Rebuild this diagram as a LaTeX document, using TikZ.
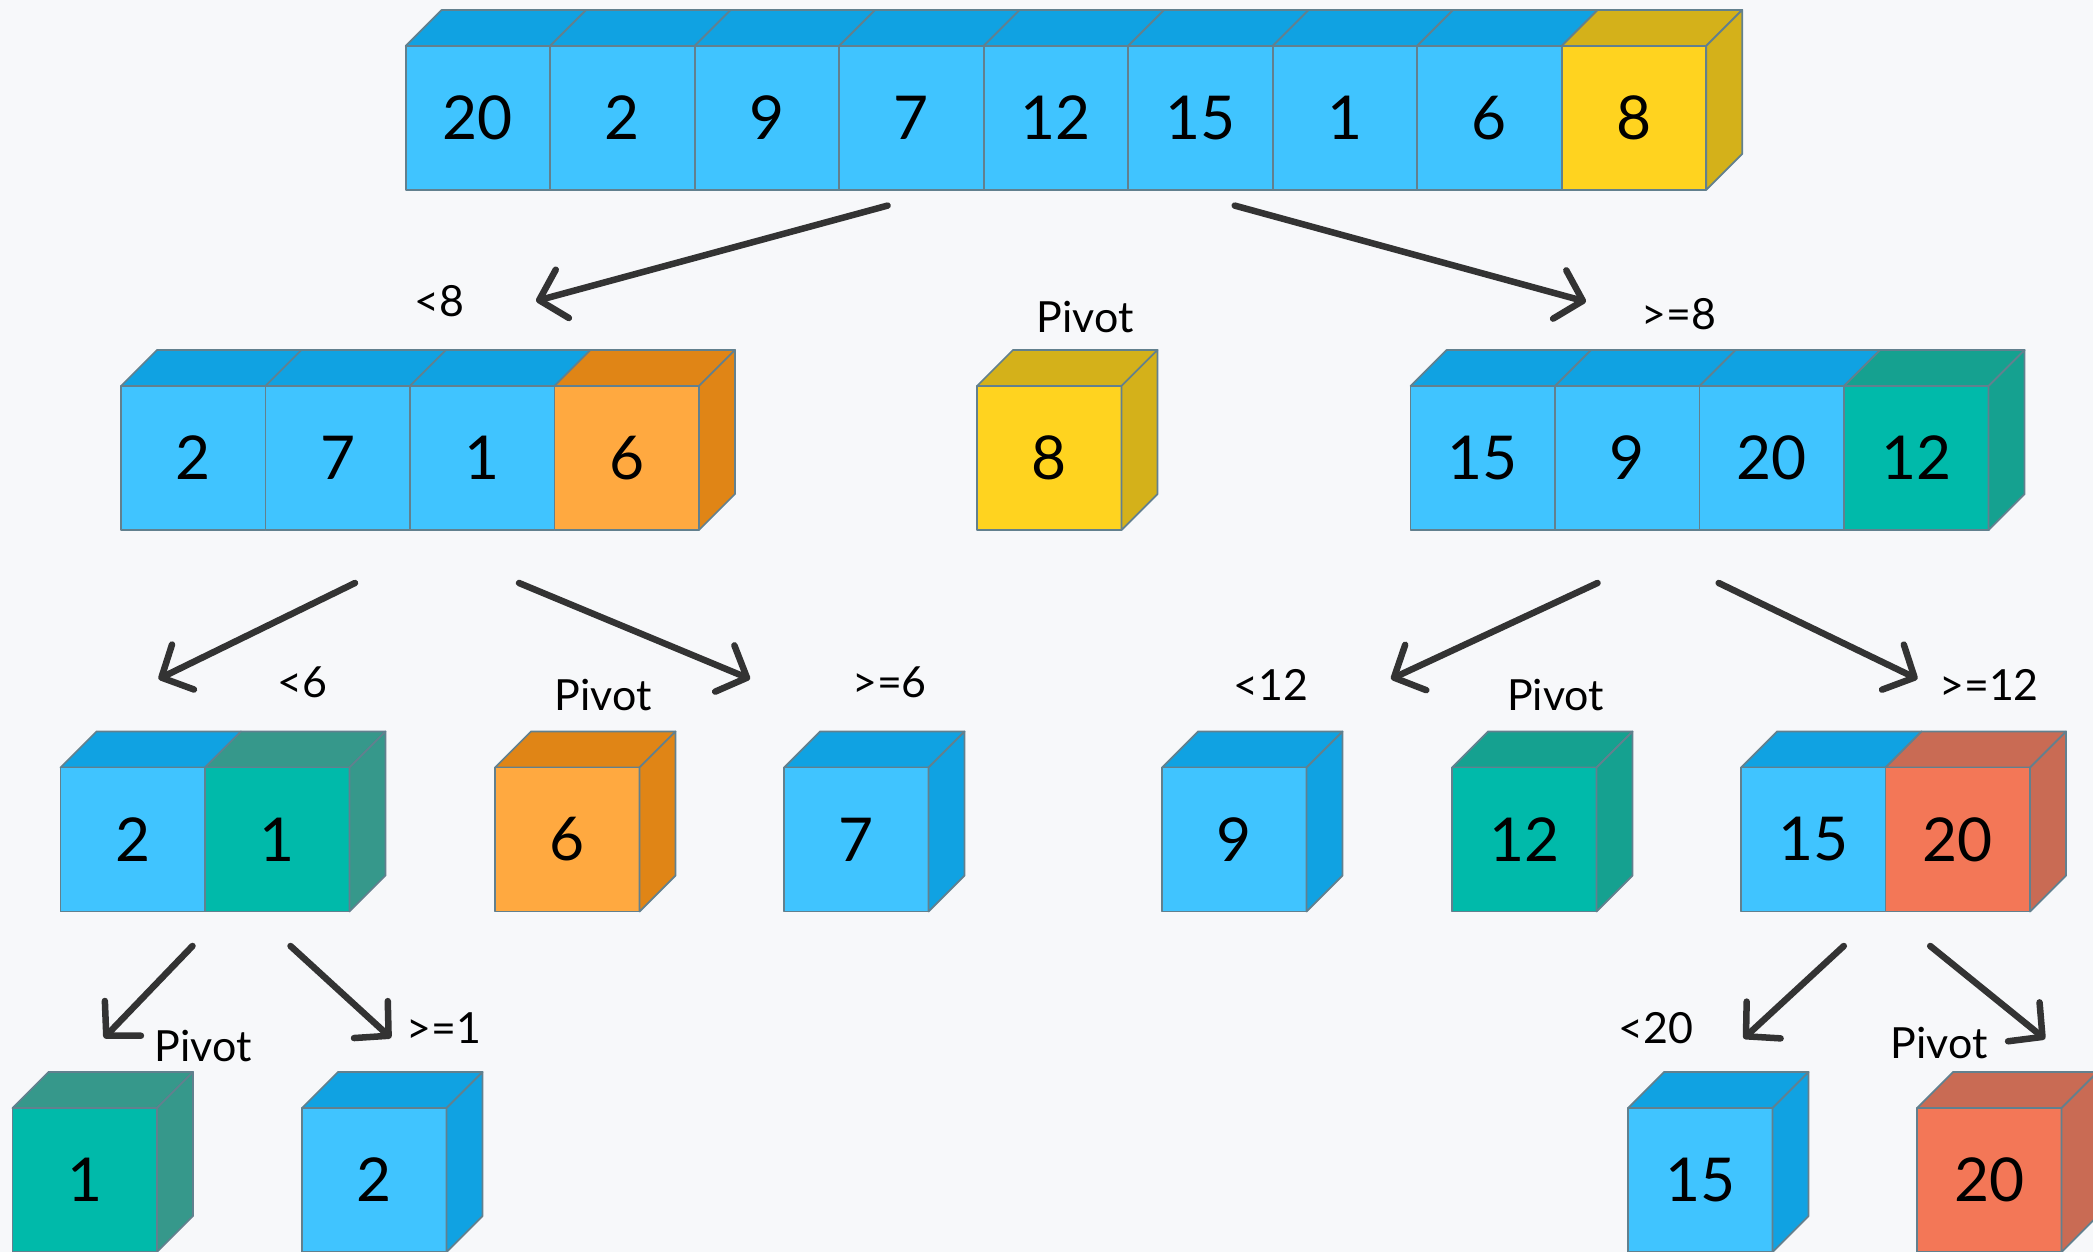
\documentclass[tikz,border=0pt]{standalone}
\usepackage{fontspec}
\setmainfont{Lato}
\usetikzlibrary{arrows.meta}

\definecolor{bg}{HTML}{F7F8FA}
\definecolor{edge}{HTML}{62808E}
\definecolor{blueF}{HTML}{40C4FF}
\definecolor{blueD}{HTML}{10A2E2}
\definecolor{yellowF}{HTML}{FFD31F}
\definecolor{yellowD}{HTML}{D4B11A}
\definecolor{orangeF}{HTML}{FFA940}
\definecolor{orangeD}{HTML}{E08516}
\definecolor{tealF}{HTML}{00BAAA}
\definecolor{tealD}{HTML}{15A190}
\definecolor{tealG}{HTML}{36988B}
\definecolor{coralF}{HTML}{F37757}
\definecolor{coralD}{HTML}{C96B54}
\definecolor{arrowc}{HTML}{333333}

\tikzset{
  cellline/.style={line width=0.5pt, draw=edge, line join=round},
  cellface/.style={cellline, rectangle, minimum width=1.445cm, minimum height=1.44cm,
    inner sep=0pt, font=\fontsize{17.2}{19}\selectfont},
  lbl/.style={font=\fontsize{12.2}{14}\selectfont, inner sep=0pt},
  conn/.style={draw=arrowc, line width=1.85pt, line cap=round,
    -{Straight Barb[length=0.24cm, width=0.5cm, round]}},
}

% one cell: front face (named node) and its top face
% #1 name, #2 left x, #3 top y, #4 front colour, #5 shade colour, #6 value
\newcommand{\cubecell}[6]{%
  \filldraw[cellline, fill=#5] (#2,#3) -- ++(36,-36) -- ++(144.5,0) -- ++(-36,36) -- cycle;
  \node[cellface, fill=#4] (#1) at (#2+72.25,#3+72) {#6};
}
% right-hand side face of a row; #1 right x, #2 top y, #3 shade colour
\newcommand{\cubeside}[3]{%
  \filldraw[cellline, fill=#3] (#1,#2) -- ++(36,-36) -- ++(0,144) -- ++(-36,36) -- cycle;
}

\begin{document}
\begin{tikzpicture}[x=0.01cm, y=-0.01cm]
\useasboundingbox (0,0) rectangle (2093,1252);
\clip (0,0) rectangle (2093,1252);
\fill[bg] (0,0) rectangle (2093,1252);

% full array
\cubecell{a1}{405.7}{46}{blueF}{blueD}{20}
\cubecell{a2}{550.2}{46}{blueF}{blueD}{2}
\cubecell{a3}{694.7}{46}{blueF}{blueD}{9}
\cubecell{a4}{839.2}{46}{blueF}{blueD}{7}
\cubecell{a5}{983.7}{46}{blueF}{blueD}{12}
\cubecell{a6}{1128.2}{46}{blueF}{blueD}{15}
\cubecell{a7}{1272.7}{46}{blueF}{blueD}{1}
\cubecell{a8}{1417.2}{46}{blueF}{blueD}{6}
\cubecell{a9}{1561.7}{46}{yellowF}{yellowD}{8}
\cubeside{1706.2}{46}{yellowD}

% second level
\cubecell{b1}{121}{386}{blueF}{blueD}{2}
\cubecell{b2}{265.5}{386}{blueF}{blueD}{7}
\cubecell{b3}{410}{386}{blueF}{blueD}{1}
\cubecell{b4}{554.5}{386}{orangeF}{orangeD}{6}
\cubeside{699}{386}{orangeD}

\cubecell{p8}{977}{386}{yellowF}{yellowD}{8}
\cubeside{1121.5}{386}{yellowD}

\cubecell{c1}{1410.6}{386}{blueF}{blueD}{15}
\cubecell{c2}{1555.1}{386}{blueF}{blueD}{9}
\cubecell{c3}{1699.6}{386}{blueF}{blueD}{20}
\cubecell{c4}{1844.1}{386}{tealF}{tealD}{12}
\cubeside{1988.6}{386}{tealD}

% third level
\cubecell{d1}{60.5}{767.5}{blueF}{blueD}{2}
\cubecell{d2}{205}{767.5}{tealF}{tealG}{1}
\cubeside{349.5}{767.5}{tealG}

\cubecell{p6}{495}{767.5}{orangeF}{orangeD}{6}
\cubeside{639.5}{767.5}{orangeD}

\cubecell{e1}{784}{767.5}{blueF}{blueD}{7}
\cubeside{928.5}{767.5}{blueD}

\cubecell{f1}{1162}{767.5}{blueF}{blueD}{9}
\cubeside{1306.5}{767.5}{blueD}

\cubecell{p12}{1452}{767.5}{tealF}{tealD}{12}
\cubeside{1596.5}{767.5}{tealD}

\cubecell{g1}{1741}{767.5}{blueF}{blueD}{15}
\cubecell{g2}{1885.5}{767.5}{coralF}{coralD}{20}
\cubeside{2030}{767.5}{coralD}

% fourth level
\cubecell{p1}{12.5}{1108}{tealF}{tealG}{1}
\cubeside{157}{1108}{tealG}

\cubecell{h1}{302}{1108}{blueF}{blueD}{2}
\cubeside{446.5}{1108}{blueD}

\cubecell{k1}{1628}{1108}{blueF}{blueD}{15}
\cubeside{1772.5}{1108}{blueD}

\cubecell{p20}{1917}{1108}{coralF}{coralD}{20}
\cubeside{2061.5}{1108}{coralD}

% labels
\node[lbl] (l1) at (439,301) {<8};
\node[lbl] (l2) at (1085,317) {Pivot};
\node[lbl] (l3) at (1679,314) {>=8};
\node[lbl] (l4) at (302,682) {<6};
\node[lbl] (l5) at (603,695) {Pivot};
\node[lbl] (l6) at (889.5,682) {>=6};
\node[lbl] (l7) at (1271,685) {<12};
\node[lbl] (l8) at (1555.5,695) {Pivot};
\node[lbl] (l9) at (1989,685) {>=12};
\node[lbl] (l10) at (203,1046.5) {Pivot};
\node[lbl] (l11) at (444,1028) {>=1};
\node[lbl] (l12) at (1656,1028) {<20};
\node[lbl] (l13) at (1939,1043.5) {Pivot};

% split arrows
\coordinate (s1) at (887.6,205.6);  \coordinate (e1) at (536,301);
\coordinate (s2) at (1234.7,205.6); \coordinate (e2) at (1586,301.7);
\coordinate (s3) at (355,583);      \coordinate (e3) at (158.5,679);
\coordinate (s4) at (519,583);      \coordinate (e4) at (750,679);
\coordinate (s5) at (1597.5,583);   \coordinate (e5) at (1391,679);
\coordinate (s6) at (1718.7,583);   \coordinate (e6) at (1917.5,679);
\coordinate (s7) at (192.5,946);    \coordinate (e7) at (104,1038);
\coordinate (s8) at (290.5,946);    \coordinate (e8) at (391,1038);
\coordinate (s9) at (1843.8,946);   \coordinate (e9) at (1743.6,1038.5);
\coordinate (s10) at (1930.2,946);  \coordinate (e10) at (2045,1039);

\foreach \i in {1,...,10} \draw[conn] (s\i) -- (e\i);
\end{tikzpicture}
\end{document}
